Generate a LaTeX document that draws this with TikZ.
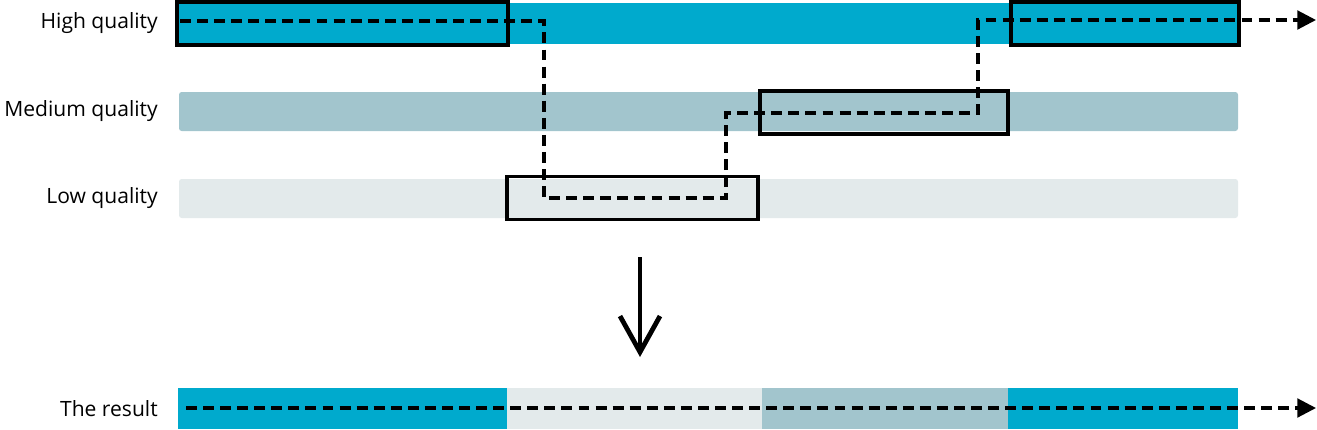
\documentclass[tikz,border=0pt]{standalone}
\usepackage{fontspec}
\setmainfont{Open Sans}
\usetikzlibrary{arrows.meta}
\definecolor{qhigh}{RGB}{0,170,205}
\definecolor{qmed}{RGB}{162,197,205}
\definecolor{qlow}{RGB}{227,234,235}
\tikzset{
  lbl/.style={anchor=east, inner sep=0pt, font=\fontsize{15.8}{18}\selectfont},
  selbox/.style={draw=black, line width=2.4pt, fill=none, inner sep=0pt},
  path dash/.style={line width=2.3pt, dash pattern=on 8.2pt off 4.6pt, -{Triangle[length=14pt,width=14pt]}},
  bigarrow/.style={line width=3.6pt, -{Straight Barb[length=27pt,width=30pt,line width=3.6pt]}}
}
\begin{document}
\begin{tikzpicture}[x=0.75pt,y=-0.75pt]
\useasboundingbox (0,0) rectangle (1317,429);
% bars
\fill[qhigh] (177,3) rectangle (1238,44);
\fill[qmed, rounded corners=2pt] (179,92) rectangle (1238,131);
\fill[qlow, rounded corners=2pt] (179,179) rectangle (1238,218);
% labels
\node[lbl] (lh) at (158,23) {High quality};
\node[lbl] (lm) at (158,111) {Medium quality};
\node[lbl] (ll) at (158,198) {Low quality};
\node[lbl] (lr) at (158,409) {The result};
% selection boxes
\node[selbox, minimum width=331*0.75pt, minimum height=43*0.75pt] (b1) at (342.5,23.5) {};
\node[selbox, minimum width=251*0.75pt, minimum height=43*0.75pt] (b2) at (632.5,198) {};
\node[selbox, minimum width=248*0.75pt, minimum height=43*0.75pt] (b3) at (884,112.5) {};
\node[selbox, minimum width=228*0.75pt, minimum height=43*0.75pt] (b4) at (1125,23.5) {};
% dashed path
\coordinate (p0) at (180,21);
\coordinate (p1) at (544,21);
\coordinate (p2) at (544,198);
\coordinate (p3) at (726,198);
\coordinate (p4) at (726,113);
\coordinate (p5) at (978,113);
\coordinate (p6) at (978,20);
\coordinate (pend) at (1316,20);
\draw[path dash] (p0) -- (p1) -- (p2) -- (p3) -- (p4) -- (p5) -- (p6) -- (pend);
% big arrow
\coordinate (a0) at (640,257);
\coordinate (a1) at (640,357);
\draw[bigarrow] (a0) -- (a1);
% result bar
\fill[qhigh] (178,388) rectangle (507,429);
\fill[qlow] (507,388) rectangle (762,429);
\fill[qmed] (762,388) rectangle (1008,429);
\fill[qhigh] (1008,388) rectangle (1238,429);
\coordinate (r0) at (186,408);
\coordinate (rend) at (1316,408);
\draw[path dash] (r0) -- (rend);
\end{tikzpicture}
\end{document}
